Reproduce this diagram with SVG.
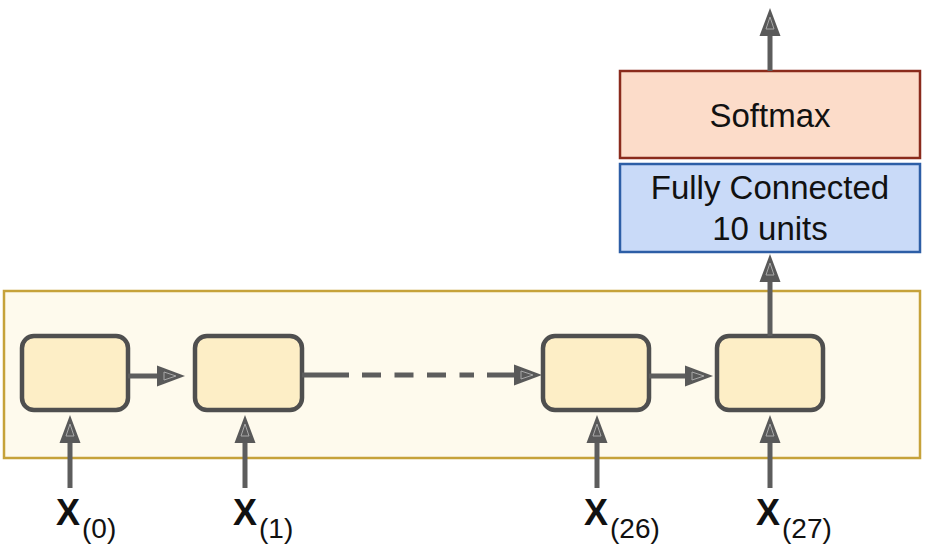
<svg xmlns="http://www.w3.org/2000/svg" width="925" height="557" viewBox="0 0 925 557">
<defs>
<marker id="ah" markerUnits="userSpaceOnUse" markerWidth="30" markerHeight="24" viewBox="0 -12 30 24" refX="0" refY="0" orient="auto">
<path d="M0,-10.5 L28,0 L0,10.5 Z" fill="#595959"/>
<path d="M7,-4 L19,0 L7,4 Z" fill="none" stroke="#a8a8a8" stroke-width="1"/>
</marker>
</defs>
<style>
.cell{fill:#fdeec6;stroke:#4f4f4f;stroke-width:4.5}
.conn{stroke:#5d5d5d;stroke-width:5;fill:none;marker-end:url(#ah)}
.lbl{font-family:"Liberation Sans",Arial,sans-serif;fill:#111}
.x{font-weight:bold;font-size:36px}
.sub{font-size:28px}
.box{font-family:"Liberation Sans",Arial,sans-serif;font-size:33px;fill:#111;text-anchor:middle}
</style>
<rect width="925" height="557" fill="#ffffff"/>
<g id="container">
<rect x="4" y="291" width="916" height="167" fill="#fefaed" stroke="#c6a23a" stroke-width="2.5"/>
</g>
<g id="softmax">
<rect x="620" y="71" width="300" height="87" fill="#fcdcc9" stroke="#8a2b1c" stroke-width="2.5"/>
<text class="box" x="770" y="127">Softmax</text>
</g>
<g id="fc">
<rect x="620" y="164" width="300" height="88" fill="#c9daf8" stroke="#2d5ea6" stroke-width="2.5"/>
<text class="box" x="770" y="199">Fully Connected</text>
<text class="box" x="770" y="240">10 units</text>
</g>
<g id="cell0"><rect class="cell" x="22" y="336" width="106" height="74" rx="12"/></g>
<g id="cell1"><rect class="cell" x="195" y="336" width="107" height="74" rx="12"/></g>
<g id="cell26"><rect class="cell" x="543" y="336" width="106" height="74" rx="12"/></g>
<g id="cell27"><rect class="cell" x="717" y="336" width="106" height="74" rx="12"/></g>
<g id="connectors">
<path class="conn" d="M128,376 L157,376"/>
<path d="M302,375 L349,375" stroke="#5d5d5d" stroke-width="5"/>
<path d="M362,375 L474,375" stroke="#5d5d5d" stroke-width="5" stroke-dasharray="19,13.5"/>
<path class="conn" d="M487,375 L514,375"/>
<path class="conn" d="M649,376 L685,376"/>
<path class="conn" d="M70,488 L70,443"/>
<path class="conn" d="M245,488 L245,443"/>
<path class="conn" d="M597,488 L597,443"/>
<path class="conn" d="M770,488 L770,443"/>
<path class="conn" d="M770,336 L770,282"/>
<path class="conn" d="M770,71 L770,36"/>
</g>
<g id="labels">
<text class="lbl" x="56" y="525"><tspan class="x">X</tspan><tspan class="sub" dx="2" dy="13">(0)</tspan></text>
<text class="lbl" x="233" y="525"><tspan class="x">X</tspan><tspan class="sub" dx="2" dy="13">(1)</tspan></text>
<text class="lbl" x="584" y="525"><tspan class="x">X</tspan><tspan class="sub" dx="2" dy="13">(26)</tspan></text>
<text class="lbl" x="756" y="525"><tspan class="x">X</tspan><tspan class="sub" dx="2" dy="13">(27)</tspan></text>
</g>
</svg>
